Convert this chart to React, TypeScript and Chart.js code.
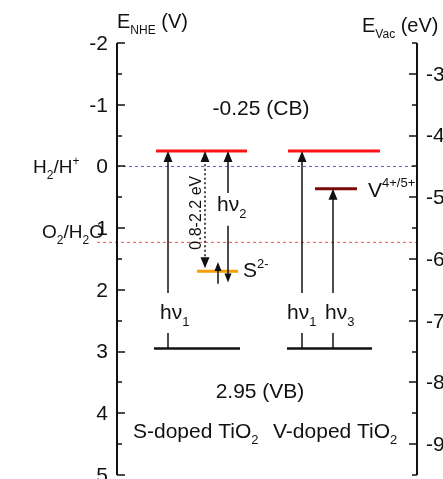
import React, { useEffect, useRef } from "react";
import { Chart, registerables } from "chart.js";
Chart.register(...registerables);

// ---- data (energies in V vs NHE) ----
const nheTicks = [-2, -1, 0, 1, 2, 3, 4, 5];
const vacTicks = [-3, -4, -5, -6, -7, -8, -9];
const vacOffset = -4.5; // E_vac = vacOffset - E_NHE
const cbEnergy = -0.25;
const vbEnergy = 2.95;
const sulfurLevel = 1.7;
const vanadiumLevel = 0.36;
const redoxNames = ["H2/H+", "O2/H2O"];
const redoxPotentials = [0, 1.23];
const gapLabel = "0.8-2.2 eV";
const materials = ["S-doped TiO", "V-doped TiO"];

// ---- layout (x in px-like units from the left axis) ----
const XS = {
  sCB: [39, 130], sVB: [37, 123], vCB: [171, 263], vVB: [170, 255],
  s2: [80, 121], v: [198, 240], h2: [0, 300], o2: [-20, 300],
};
const FONT = "Arial, 'Liberation Sans', sans-serif";

function rich(ctx: CanvasRenderingContext2D, x: number, y: number, parts: [string, string][], fs: number, align = "left") {
  const sfs = Math.round(fs * 0.62);
  let w = 0;
  for (const [t, k] of parts) {
    ctx.font = `${k === "n" ? fs : sfs}px ${FONT}`;
    w += ctx.measureText(t).width;
  }
  let cx = align === "center" ? x - w / 2 : align === "right" ? x - w : x;
  ctx.textAlign = "left";
  ctx.textBaseline = "alphabetic";
  for (const [t, k] of parts) {
    ctx.font = `${k === "n" ? fs : sfs}px ${FONT}`;
    const dy = k === "sub" ? fs * 0.3 : k === "sup" ? -fs * 0.45 : 0;
    ctx.fillText(t, cx, y + dy);
    cx += ctx.measureText(t).width;
  }
}

function arrowLine(ctx: CanvasRenderingContext2D, x: number, y0: number, y1: number, opt: any = {}) {
  const hl = opt.hl ?? 11, hw = opt.hw ?? 4.5;
  const dir = Math.sign(y1 - y0);
  ctx.save();
  ctx.strokeStyle = "#111";
  ctx.fillStyle = "#111";
  ctx.lineWidth = opt.lw ?? 1.5;
  ctx.setLineDash(opt.dotted ? [2, 2.5] : []);
  const s = opt.startHead ? y0 + dir * hl * 0.8 : y0;
  const e = opt.noHead ? y1 : y1 - dir * hl * 0.8;
  ctx.beginPath();
  ctx.moveTo(x, s);
  ctx.lineTo(x, e);
  ctx.stroke();
  ctx.setLineDash([]);
  const head = (yt: number, d: number) => {
    ctx.beginPath();
    ctx.moveTo(x, yt);
    ctx.lineTo(x - hw, yt - d * hl);
    ctx.lineTo(x + hw, yt - d * hl);
    ctx.closePath();
    ctx.fill();
  };
  if (!opt.noHead) head(y1, dir);
  if (opt.startHead) head(y0, -dir);
  ctx.restore();
}

const diagramPlugin = {
  id: "diagram",
  afterDatasetsDraw(chart: any) {
    const ctx: CanvasRenderingContext2D = chart.ctx;
    const xs = chart.scales.x, ys = chart.scales.y, y2 = chart.scales.y2;
    const a = chart.chartArea;
    const X = (u: number) => xs.getPixelForValue(u);
    const Y = (e: number) => ys.getPixelForValue(e);
    ctx.save();
    // axes
    ctx.strokeStyle = "#111";
    ctx.lineWidth = 2;
    ctx.beginPath();
    ctx.moveTo(a.left, a.top); ctx.lineTo(a.left, a.bottom);
    ctx.moveTo(a.right, a.top); ctx.lineTo(a.right, a.bottom);
    ctx.stroke();
    ctx.lineWidth = 1.5;
    ctx.beginPath();
    for (let v = nheTicks[0]; v <= nheTicks[nheTicks.length - 1] + 1e-9; v += 0.5) {
      const len = Number.isInteger(v) ? 8 : 5;
      const py = Math.round(Y(v));
      ctx.moveTo(a.left, py); ctx.lineTo(a.left + len, py);
    }
    for (let v = -2.5; v >= -9.5 - 1e-9; v -= 0.5) {
      const len = Number.isInteger(v) ? 8 : 5;
      const py = Math.round(y2.getPixelForValue(v));
      ctx.moveTo(a.right, py); ctx.lineTo(a.right - len, py);
    }
    ctx.stroke();
    ctx.fillStyle = "#111";
    ctx.font = `21px ${FONT}`;
    ctx.textBaseline = "middle";
    ctx.textAlign = "right";
    nheTicks.forEach((v) => ctx.fillText(String(v), a.left - 9, Y(v) + 1));
    ctx.textAlign = "left";
    vacTicks.forEach((v) => ctx.fillText(String(v), a.right + 9, y2.getPixelForValue(v) + 1));
    // titles
    rich(ctx, a.left, 28, [["E", "n"], ["NHE", "sub"], [" (V)", "n"]], 20);
    rich(ctx, a.right - 55, 32, [["E", "n"], ["Vac", "sub"], [" (eV)", "n"]], 20);
    // redox labels
    rich(ctx, 33, Y(redoxPotentials[0]) + 7, [["H", "n"], ["2", "sub"], ["/H", "n"], ["+", "sup"]], 19);
    rich(ctx, 42, Y(redoxPotentials[1]) - 4, [["O", "n"], ["2", "sub"], ["/H", "n"], ["2", "sub"], ["O", "n"]], 19);
    // band labels
    ctx.fillStyle = "#111";
    rich(ctx, X(144), Y(-0.84), [[`${cbEnergy.toFixed(2)} (CB)`, "n"]], 21, "center");
    rich(ctx, X(143), Y(3.75), [[`${vbEnergy.toFixed(2)} (VB)`, "n"]], 21, "center");
    rich(ctx, X(16), Y(4.4), [[materials[0], "n"], ["2", "sub"]], 21);
    rich(ctx, X(156), Y(4.4), [[materials[1], "n"], ["2", "sub"]], 21);
    rich(ctx, X(126), Y(sulfurLevel) + 6, [["S", "n"], ["2-", "sup"]], 21);
    rich(ctx, X(251), Y(vanadiumLevel) + 8, [["V", "n"], ["4+/5+", "sup"]], 21);
    // hv labels
    const hv = (u: number, e: number, n: string) => rich(ctx, X(u), Y(e), [["h\u03bd", "n"], [n, "sub"]], 21);
    hv(43, 2.48, "1");
    hv(170, 2.48, "1");
    hv(208, 2.48, "3");
    hv(100, 0.73, "2");
    // arrows
    arrowLine(ctx, X(51), Y(2.05), Y(cbEnergy));
    arrowLine(ctx, X(51), Y(2.7), Y(vbEnergy), { noHead: true });
    arrowLine(ctx, X(185), Y(2.05), Y(cbEnergy));
    arrowLine(ctx, X(185), Y(2.7), Y(vbEnergy), { noHead: true });
    arrowLine(ctx, X(216), Y(2.05), Y(vanadiumLevel));
    arrowLine(ctx, X(216), Y(2.7), Y(vbEnergy), { noHead: true });
    arrowLine(ctx, X(111), Y(0.43), Y(cbEnergy));
    arrowLine(ctx, X(111), Y(0.96), Y(1.88), { hl: 9, hw: 3.5 });
    arrowLine(ctx, X(101), Y(1.9), Y(1.55), { hl: 9, hw: 3.5 });
    arrowLine(ctx, X(88), Y(cbEnergy), Y(sulfurLevel - 0.05), { dotted: true, startHead: true });
    // rotated gap label
    ctx.save();
    ctx.translate(X(80), Y(0.75));
    ctx.rotate(-Math.PI / 2);
    ctx.font = `16px ${FONT}`;
    ctx.textAlign = "center";
    ctx.textBaseline = "middle";
    ctx.fillStyle = "#111";
    ctx.fillText(gapLabel, 0, 0);
    ctx.restore();
    ctx.restore();
  },
};

const seg = (xr: number[], e: number) => [{ x: xr[0], y: e }, { x: xr[1], y: e }];

export default function App() {
  const ref = useRef<HTMLCanvasElement>(null);
  useEffect(() => {
    const ds = (data: any, color: string, width: number, dash: number[] = []) => ({
      data, borderColor: color, borderWidth: width, borderDash: dash, showLine: true,
      pointRadius: 0, fill: false, clip: false, borderCapStyle: "butt",
    });
    const chart = new Chart(ref.current!, {
      type: "scatter",
      data: {
        datasets: [
          ds(seg(XS.h2, redoxPotentials[0]), "#5b5bd0", 1, [3, 3]),
          ds(seg(XS.o2, redoxPotentials[1]), "#ff4a4a", 1, [3, 3]),
          ds(seg(XS.sCB, cbEnergy), "#ff1414", 3),
          ds(seg(XS.vCB, cbEnergy), "#ff1414", 3),
          ds(seg(XS.sVB, vbEnergy), "#111111", 2.5),
          ds(seg(XS.vVB, vbEnergy), "#111111", 2.5),
          ds(seg(XS.s2, sulfurLevel), "#f5a000", 3),
          ds(seg(XS.v, vanadiumLevel), "#7a0a0a", 3),
        ] as any,
      },
      options: {
        responsive: false,
        animation: false,
        events: [],
        layout: { padding: { left: 117, right: 53, top: 43, bottom: 4 } },
        plugins: { legend: { display: false }, tooltip: { enabled: false } },
        scales: {
          x: { type: "linear", min: 0, max: 300, display: false },
          y: { type: "linear", min: nheTicks[0], max: nheTicks[nheTicks.length - 1], reverse: true, display: false },
          y2: { type: "linear", min: vacOffset - nheTicks[nheTicks.length - 1], max: vacOffset - nheTicks[0], display: false, position: "right" },
        },
      },
      plugins: [diagramPlugin],
    });
    return () => chart.destroy();
  }, []);
  return (
    <div style={{ position: "fixed", left: 0, top: 0, width: 443, height: 479, overflow: "hidden", background: "#fff" }}>
      <canvas ref={ref} width={470} height={479} style={{ display: "block", width: 470, height: 479 }} />
    </div>
  );
}
